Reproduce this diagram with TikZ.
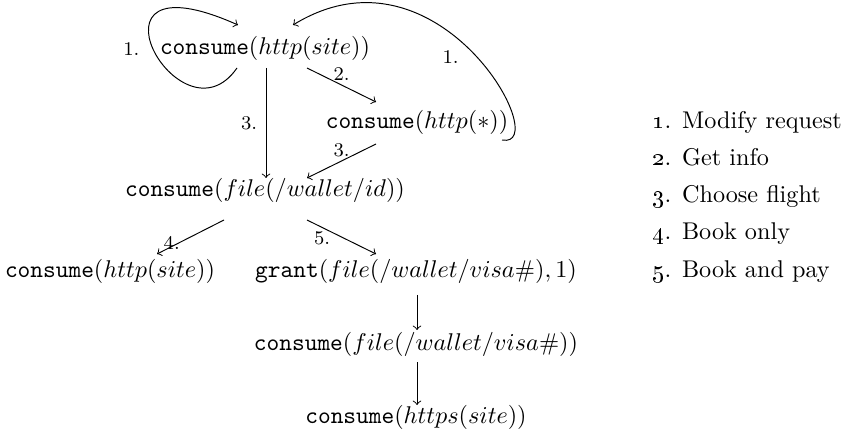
\documentclass[tikz,border=0pt]{standalone}
\usetikzlibrary{calc}
\begin{document}
\begin{tikzpicture}[x=0.413pt,y=-0.413pt,
  term/.style={inner sep=0pt, anchor=base},
  conn/.style={->, line width=0.4pt},
  elab/.style={font=\footnotesize, inner sep=1.5pt},
  legitem/.style={anchor=base west, inner sep=0pt}]
\useasboundingbox (0,0) rectangle (841,442);
% terms
\node[term] (A) at (265,55)  {$\texttt{consume}(http(site))$};
\node[term] (B) at (417,129) {$\texttt{consume}(http(*))$};
\node[term] (C) at (265,197) {$\texttt{consume}(file(/wallet/id))$};
\node[term] (D) at (110,277) {$\texttt{consume}(http(site))$};
\node[term] (E) at (416,277) {$\texttt{grant}(file(/wallet/visa\#),1)$};
\node[term] (F) at (416,350) {$\texttt{consume}(file(/wallet/visa\#))$};
\node[term] (G) at (416,423) {$\texttt{consume}(https(site))$};
% connectors
\draw[conn] ($(A.base)+(-28,13)$) .. controls ($(A.base)+(-85,95)$) and ($(A.base)+(-195,-105)$) .. ($(A.base)+(-27,-30)$)
  node[elab, pos=0.5, left=4pt] (l1a) {1.};
\draw[conn] ($(B.base)+(85,11)$) .. controls ($(B.base)+(138,21)$) and ($(A.base)+(175,-120)$) .. ($(A.base)+(28,-30)$)
  node[elab, pos=0.48, left=6pt] (l1b) {1.};
\draw[conn] ($(A.base)+(1,13)$) -- ($(C.base)+(1,-19)$) node[elab, midway, left=2pt] (l3a) {3.};
\draw[conn] ($(A.base)+(42,13)$) -- ($(B.base)+(-41,-27)$) node[elab, midway, above] (l2) {2.};
\draw[conn] ($(B.base)+(-41,15)$) -- ($(C.base)+(42,-19)$) node[elab, midway, above] (l3b) {3.};
\draw[conn] ($(C.base)+(-41,23)$) -- ($(D.base)+(47,-23)$) node[elab, pos=0.78, above=-3pt] (l4) {4.};
\draw[conn] ($(C.base)+(42,23)$) -- ($(E.base)+(-40,-23)$) node[elab, pos=0.22, below] (l5) {5.};
\draw[conn] ($(E.base)+(1,18)$) -- ($(F.base)+(1,-20)$);
\draw[conn] ($(F.base)+(1,12)$) -- ($(G.base)+(1,-18)$);
% legend
\node[legitem] (k1) at (652,129) {\oldstylenums{1}. Modify request};
\node[legitem] (k2) at (652,166) {\oldstylenums{2}. Get info};
\node[legitem] (k3) at (652,203) {\oldstylenums{3}. Choose flight};
\node[legitem] (k4) at (652,240) {\oldstylenums{4}. Book only};
\node[legitem] (k5) at (652,277) {\oldstylenums{5}. Book and pay};
\end{tikzpicture}
\end{document}
